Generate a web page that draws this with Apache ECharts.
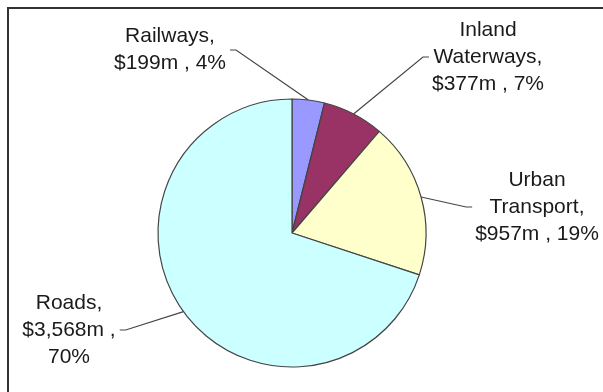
<!DOCTYPE html>
<html>
<head>
<meta charset="utf-8">
<script src="https://cdn.jsdelivr.net/npm/echarts@6/dist/echarts.min.js"></script>
<style>
  html, body { margin: 0; padding: 0; background: #fff; }
  #wrap { position: relative; width: 603px; height: 392px; overflow: hidden; }
  #frame { position: absolute; left: 7px; top: 7px; right: -10px; bottom: -10px;
           border-top: 2px solid #333; border-left: 2px solid #333; pointer-events: none; }
  #chart { position: absolute; left: 0; top: 0; width: 603px; height: 392px; }
</style>
</head>
<body>
<div id="wrap">
  <div id="chart"></div>
  <div id="frame"></div>
</div>
<script>
// ---- data ----
var categories = ['Railways', 'Inland Waterways', 'Urban Transport', 'Roads'];
var values = [199, 377, 957, 3568];           // $ millions
var colors = ['#9999FF', '#993366', '#FFFFCC', '#CCFFFF'];

// label block centres (layout only)
var labelPos = [[170, 50], [488, 57], [537, 207], [69, 330]];

var total = values.reduce(function (a, b) { return a + b; }, 0);

function fmtNum(v) {
  return String(v).replace(/\B(?=(\d{3})+(?!\d))/g, ',');
}

var chart = echarts.init(document.getElementById('chart'), null, { renderer: 'canvas' });

chart.setOption({
  animation: false,
  backgroundColor: '#ffffff',
  series: [{
    type: 'pie',
    center: [292, 233],
    radius: 134,
    startAngle: 90,
    clockwise: true,
    avoidLabelOverlap: false,
    itemStyle: { borderColor: '#444', borderWidth: 1.2 },
    label: {
      show: true,
      position: 'outside',
      fontFamily: 'Liberation Sans, Arial, sans-serif',
      fontSize: 21,
      lineHeight: 27,
      color: '#1a1a1a',
      formatter: function (p) {
        var pct = Math.round(p.value / total * 100);
        var name = p.name.split(' ').join('\n') + ',';
        var money = '$' + fmtNum(p.value) + 'm ,';
        var sep = p.value >= 1000 ? '\n' : ' ';
        return name + '\n' + money + sep + pct + '%';
      }
    },
    labelLine: {
      show: true,
      length: 10,
      length2: 10,
      lineStyle: { color: '#444', width: 1.2 }
    },
    labelLayout: function (params) {
      var pos = labelPos[params.dataIndex];
      var w = params.labelRect.width, h = params.labelRect.height;
      var start = params.labelLinePoints ? params.labelLinePoints[0] : null;
      var res = { x: pos[0], y: pos[1], align: 'center', verticalAlign: 'middle' };
      if (start) {
        var leftSide = start[0] > pos[0];  // label is left of slice -> connect to right edge
        var sideX = leftSide ? pos[0] + w / 2 + 4 : pos[0] - w / 2 - 3;
        var stubX = leftSide ? sideX + 6 : sideX - 6;
        res.labelLinePoints = [start, [stubX, pos[1]], [sideX, pos[1]]];
      }
      return res;
    },
    data: categories.map(function (c, i) {
      return { name: c, value: values[i], itemStyle: { color: colors[i] } };
    })
  }]
});
</script>
</body>
</html>
